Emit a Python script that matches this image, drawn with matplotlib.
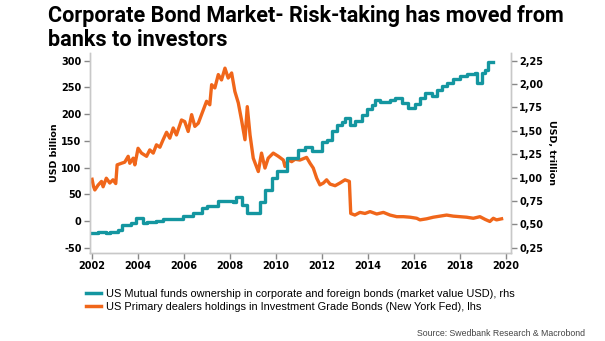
import numpy as np
import matplotlib
matplotlib.use("Agg")
import matplotlib.pyplot as plt
from matplotlib.lines import Line2D

plt.rcParams["axes.unicode_minus"] = False

# --- data (decimal years) ---
# US Mutual funds ownership (USD trillion, rhs) - stepped series
mf_t = [2002.00, 2002.26, 2002.62, 2002.77, 2003.13, 2003.28, 2003.71, 2003.93,
        2004.22, 2004.37, 2004.80, 2005.09, 2005.96, 2006.40, 2006.76, 2006.98,
        2007.49, 2008.14, 2008.28, 2008.50, 2008.72, 2009.30, 2009.52, 2009.81,
        2010.03, 2010.46, 2010.97, 2011.26, 2011.55, 2011.99, 2012.20, 2012.42,
        2012.64, 2012.86, 2013.00, 2013.22, 2013.43, 2013.72, 2013.94, 2014.16,
        2014.30, 2014.52, 2014.96, 2015.17, 2015.46, 2015.75, 2016.04, 2016.26,
        2016.48, 2016.77, 2016.99, 2017.20, 2017.42, 2017.71, 2018.00, 2018.29,
        2018.65, 2018.72, 2018.94, 2019.09, 2019.23, 2019.45]
mf_v = [0.404, 0.416, 0.404, 0.421, 0.439, 0.490, 0.513, 0.564,
        0.513, 0.521, 0.539, 0.559, 0.587, 0.616, 0.673, 0.696,
        0.747, 0.741, 0.787, 0.707, 0.616, 0.741, 0.867, 0.993,
        1.070, 1.207, 1.296, 1.330, 1.284, 1.376, 1.404, 1.501,
        1.559, 1.599, 1.636, 1.564, 1.610, 1.673, 1.730, 1.776,
        1.827, 1.804, 1.833, 1.850, 1.799, 1.741, 1.787, 1.850,
        1.901, 1.867, 1.941, 1.976, 2.010, 2.056, 2.090, 2.107,
        2.119, 2.016, 2.119, 2.153, 2.233, 2.233]

# US Primary dealers holdings in IG bonds (USD billion, lhs)
pd_t = [2002.00, 2002.06, 2002.12, 2002.26, 2002.41, 2002.48, 2002.62, 2002.77,
        2002.91, 2003.03, 2003.09, 2003.28, 2003.42, 2003.57, 2003.64, 2003.79,
        2003.86, 2004.00, 2004.15, 2004.37, 2004.51, 2004.66, 2004.80, 2004.95,
        2005.09, 2005.24, 2005.38, 2005.53, 2005.67, 2005.89, 2006.03, 2006.18,
        2006.33, 2006.47, 2006.62, 2006.76, 2006.98, 2007.12, 2007.20, 2007.34,
        2007.49, 2007.63, 2007.78, 2007.92, 2008.07, 2008.21, 2008.36, 2008.50,
        2008.65, 2008.75, 2008.87, 2009.01, 2009.23, 2009.37, 2009.52, 2009.66,
        2009.88, 2010.10, 2010.32, 2010.39, 2010.54, 2010.68, 2010.83, 2011.04,
        2011.33, 2011.48, 2011.62, 2011.77, 2011.91, 2012.06, 2012.20, 2012.35,
        2012.57, 2012.78, 2013.00, 2013.19, 2013.25, 2013.43, 2013.65, 2013.87,
        2014.09, 2014.38, 2014.67, 2014.96, 2015.25, 2015.54, 2015.83, 2016.12,
        2016.26, 2016.55, 2016.84, 2017.13, 2017.42, 2017.71, 2018.00, 2018.29,
        2018.58, 2018.87, 2019.09, 2019.30, 2019.45, 2019.59, 2019.81]
pd_v = [78, 65, 58, 67, 74, 64, 80, 71,
        77, 70, 105, 108, 110, 121, 108, 117.5,
        105, 136, 127, 121, 133, 127, 142.5, 138,
        152, 166, 155, 174, 161, 189, 186, 167.5,
        199, 177, 183, 199, 224, 217.5, 255, 249,
        274, 264, 286, 267.5, 277, 242.5, 221, 189,
        152, 214, 161, 117.5, 92.5, 127, 99, 117.5,
        127, 121, 114, 102, 114, 111, 115.5, 114,
        119, 108, 99, 80, 67.5, 71, 77, 69,
        66, 71, 77, 74, 14, 11, 16, 14,
        17.5, 13, 16, 11, 8, 8, 7, 5,
        2, 4, 7, 9, 11, 9, 8, 7,
        5, 8, 3, -1, 5, 2, 4]

years = [2002, 2004, 2006, 2008, 2010, 2012, 2014, 2016, 2018, 2020]
lhs_ticks = [-50, 0, 50, 100, 150, 200, 250, 300]
rhs_ticks = [0.25, 0.50, 0.75, 1.00, 1.25, 1.50, 1.75, 2.00, 2.25]

teal = "#1496a0"
orange = "#f0661a"
grey = "#c8c8c8"

fig = plt.figure(figsize=(6.05, 3.41), dpi=100)
ax = fig.add_axes([90 / 605, 1 - 253 / 341, 421 / 605, 200 / 341])
ax2 = ax.twinx()

ax.plot(pd_t, pd_v, color=orange, lw=2.4, solid_joinstyle="round")
ax2.plot(mf_t, mf_v, color=teal, lw=2.4, drawstyle="steps-post")

ax.set_xlim(2001.91, 2020.22)
ax.set_ylim(-60, 314.4)
ax2.set_ylim(0.25 + (-60 + 50) / 175, 0.25 + (314.4 + 50) / 175)

ax.set_xticks(years)
ax.set_xticklabels([str(y) for y in years])
ax.set_yticks(lhs_ticks)
ax2.set_yticks(rhs_ticks)
ax2.set_yticklabels([f"{v:.2f}".replace(".", ",") for v in rhs_ticks])

for a in (ax, ax2):
    for s in a.spines.values():
        s.set_color(grey)
        s.set_linewidth(1)
    a.spines["top"].set_visible(False)
    a.tick_params(length=4, width=1, color="#888888", pad=2, labelsize=7)
    for lab in a.get_xticklabels() + a.get_yticklabels():
        lab.set_fontweight("bold")

ax.set_ylabel("USD billion", fontsize=6.8, fontweight="bold", labelpad=2)
ax2.set_ylabel("USD, trillion", fontsize=6.8, fontweight="bold", rotation=270, labelpad=9)

# title
title_font = ["Roboto", "DejaVu Sans"]
fig.text(48 / 605, 1 - 22 / 341, "Corporate Bond Market- Risk-taking has moved from",
         fontsize=15.6, fontweight="bold", family=title_font, va="baseline", ha="left")
fig.text(48 / 605, 1 - 46 / 341, "banks to investors",
         fontsize=15.6, fontweight="bold", family=title_font, va="baseline", ha="left")

# legend
handles = [Line2D([], [], color=teal, lw=2.5), Line2D([], [], color=orange, lw=2.5)]
labels = ["US Mutual funds ownership in corporate and foreign bonds (market value USD), rhs",
          "US Primary dealers holdings in Investment Grade Bonds (New York Fed), lhs"]
fig.legend(handles, labels, loc="upper left", bbox_to_anchor=(86 / 605, 1 - 289 / 341),
           frameon=False, handlelength=1.4, handletextpad=0.4, labelspacing=0.3,
           borderpad=0, borderaxespad=0,
           prop={"family": "Liberation Sans", "size": 7.9})

fig.text(585 / 605, 1 - 333 / 341, "Source: Swedbank Research & Macrobond",
         fontsize=6.3, color="#444444", ha="right", va="center", family="Liberation Sans")

fig.savefig("out.png", dpi=100)
